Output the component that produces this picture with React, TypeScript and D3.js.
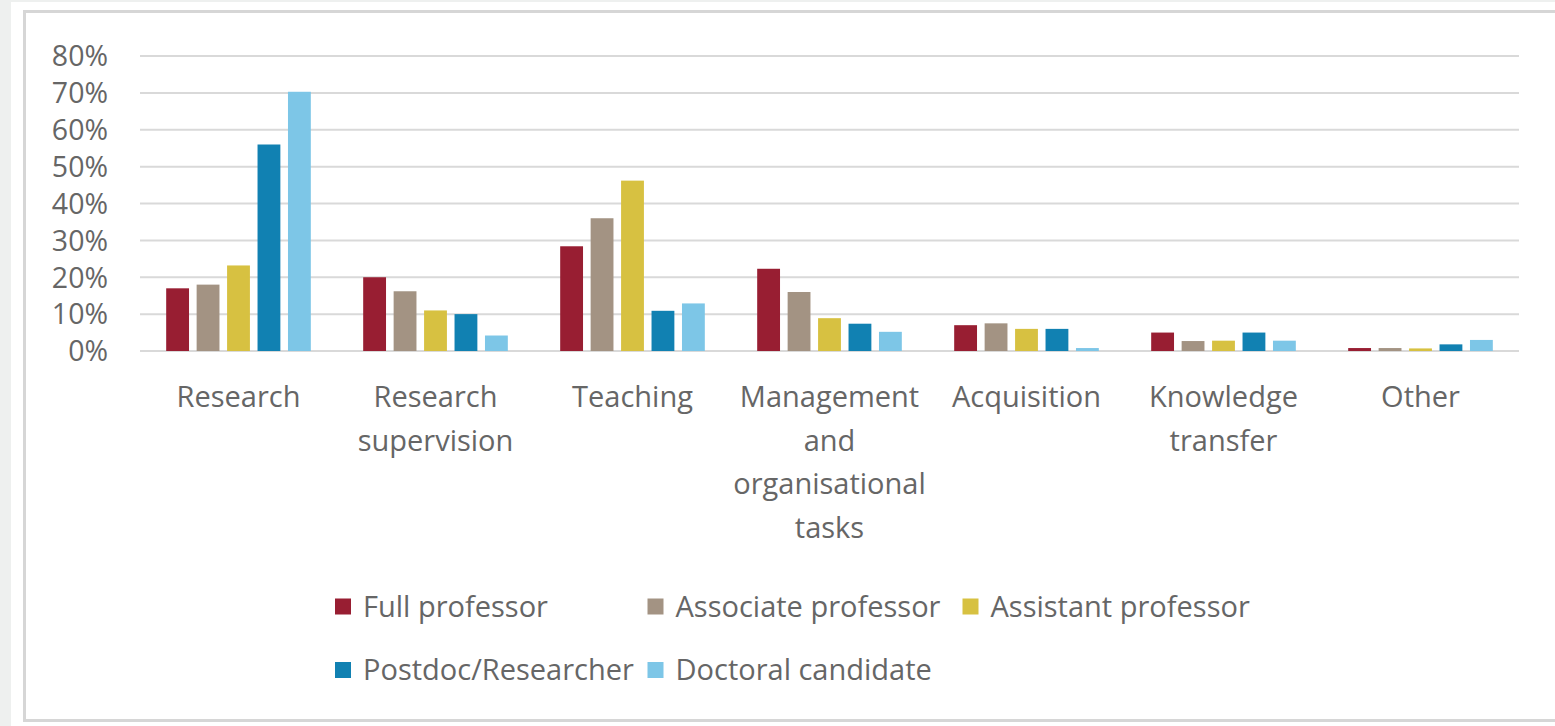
import React from "react";
import { scaleBand, scaleLinear } from "d3";

const categories = [
  ["Research"],
  ["Research", "supervision"],
  ["Teaching"],
  ["Management", "and", "organisational", "tasks"],
  ["Acquisition"],
  ["Knowledge", "transfer"],
  ["Other"],
];
const series = [
  "Full professor",
  "Associate professor",
  "Assistant professor",
  "Postdoc/Researcher",
  "Doctoral candidate",
];
const colors = ["#981e32", "#a39383", "#d7c141", "#1181b2", "#7dc6e7"];

// percent per category, one array per series
const fullProfessor = [17, 20, 28.4, 22.3, 7, 5, 0.8];
const associateProfessor = [18, 16.2, 36, 16, 7.5, 2.7, 0.8];
const assistantProfessor = [23.2, 11, 46.2, 8.9, 6, 2.8, 0.7];
const postdoc = [56, 10, 10.9, 7.4, 6, 5, 1.8];
const doctoral = [70.3, 4.2, 12.9, 5.2, 0.8, 2.8, 3];
const values = [fullProfessor, associateProfessor, assistantProfessor, postdoc, doctoral];

const yTicks = [0, 10, 20, 30, 40, 50, 60, 70, 80];

const textColor = "#666666";
const font = "'Open Sans', sans-serif";

export default function App() {
  const x0 = scaleBand<number>()
    .domain(categories.map((_, i) => i))
    .range([140, 1519]);
  const x1 = scaleBand<number>()
    .domain(series.map((_, i) => i))
    .range([0, x0.bandwidth()])
    .paddingInner(0.25)
    .paddingOuter(0.86);
  const y = scaleLinear().domain([0, 80]).range([351, 56]);

  const legendRows = [
    [0, 1, 2],
    [3, 4],
  ];
  const legendX = [335, 647.5, 962.5];
  const legendY = [606.5, 670];

  return (
    <svg
      width={1555}
      height={726}
      style={{ position: "absolute", left: 0, top: 0, fontFamily: font }}
    >
      <rect x={0} y={0} width={1555} height={726} fill="#eef0ef" />
      <rect x={11} y={2} width={1544} height={724} fill="#ffffff" />
      <rect
        x={24.5}
        y={11.5}
        width={1545}
        height={709}
        fill="#ffffff"
        stroke="#d6d6d6"
        strokeWidth={3}
      />

      {yTicks.map((t) => (
        <g key={t}>
          <line
            x1={140}
            x2={1519}
            y1={y(t)}
            y2={y(t)}
            stroke="#d9d9d9"
            strokeWidth={2}
          />
          <text
            x={108}
            y={y(t)}
            dy="0.36em"
            textAnchor="end"
            fontSize={28.5}
            fill={textColor}
          >
            {t}%
          </text>
        </g>
      ))}

      {values.map((vals, s) =>
        vals.map((v, c) => (
          <rect
            key={`${s}-${c}`}
            x={(x0(c) ?? 0) + (x1(s) ?? 0)}
            y={y(v)}
            width={x1.bandwidth()}
            height={y(0) - y(v)}
            fill={colors[s]}
          />
        ))
      )}

      {categories.map((lines, c) => (
        <text
          key={c}
          x={(x0(c) ?? 0) + x0.bandwidth() / 2}
          y={397}
          textAnchor="middle"
          fontSize={29}
          fill={textColor}
        >
          {lines.map((l, i) => (
            <tspan key={i} x={(x0(c) ?? 0) + x0.bandwidth() / 2} dy={i === 0 ? "0.36em" : 43.5}>
              {l}
            </tspan>
          ))}
        </text>
      ))}

      {legendRows.map((row, r) =>
        row.map((s, k) => (
          <g key={s} transform={`translate(${legendX[k]},${legendY[r]})`}>
            <rect x={0} y={-8} width={16} height={16} fill={colors[s]} />
            <text x={28} y={0} dy="0.36em" fontSize={29} fill={textColor}>
              {series[s]}
            </text>
          </g>
        ))
      )}
    </svg>
  );
}
